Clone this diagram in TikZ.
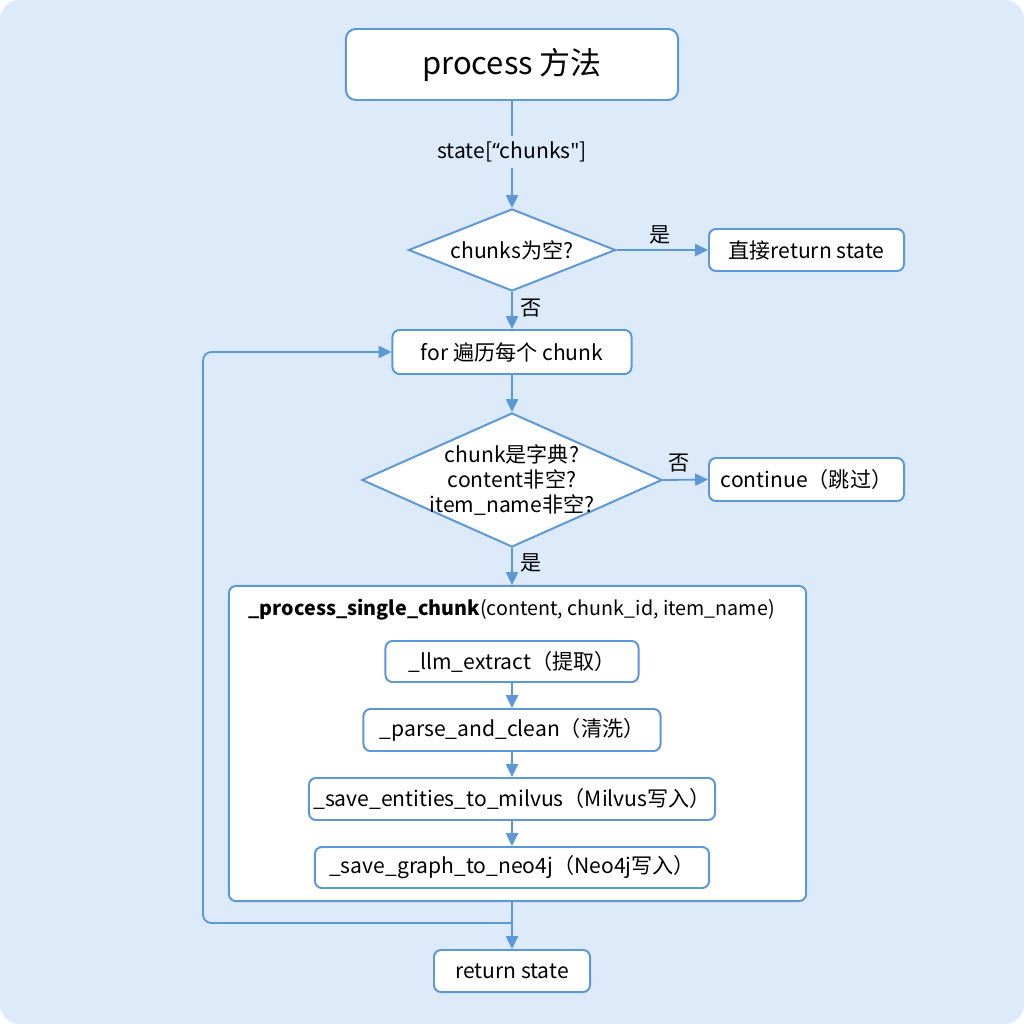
\documentclass[tikz,border=0pt]{standalone}
\usepackage{fontspec}
\setmainfont{Noto Sans CJK SC}
\newfontfamily\latinfont{Noto Sans}
\usetikzlibrary{shapes.geometric,positioning,arrows.meta,calc}
\definecolor{bgblue}{HTML}{DCEAFA}
\definecolor{lineblue}{HTML}{5C98D8}

\begin{document}
\begin{tikzpicture}[x=0.025cm, y=-0.025cm,
  box/.style={rectangle, draw=lineblue, line width=1.4pt, fill=white, rounded corners=5pt, inner sep=0pt, font=\fontsize{15}{18}\selectfont},
  decision/.style={diamond, draw=lineblue, line width=1.4pt, fill=white, inner sep=0pt},
  arrow/.style={-{Triangle[length=3.2mm, width=3mm]}, draw=lineblue, line width=1.3pt},
  tag/.style={font=\fontsize{15}{18}\selectfont, inner sep=1pt},
]

% === Background ===
\fill[white] (0,0) rectangle (1024,1024);
\fill[bgblue, rounded corners=14pt] (0,0) rectangle (1024,1024);
\useasboundingbox (0,0) rectangle (1024,1024);

% === Entry and first check ===
\node[box, rounded corners=7pt, minimum width=8.3cm, minimum height=1.775cm, font=\fontsize{22}{26}\selectfont] (title) at (512,64.5) {process 方法};
\node[tag, inner sep=4pt] (st) at (512,152) {state[{\latinfont “}chunks{\latinfont "}]};
\node[decision, minimum width=5.175cm, minimum height=2.05cm] (d1) at (512,250) {};
\node[tag] (d1txt) at (d1) {chunks为空?};
\node[box, minimum width=4.875cm, minimum height=1.05cm] (direct) at (806.5,250) {直接return state};

\draw[draw=lineblue, line width=1.3pt] (title) -- (st);
\draw[arrow] (st) -- (d1);
\draw[arrow] (d1.east) -- (direct.west);
\node[tag] (yes1) at (660,235) {是};

% === Loop over chunks ===
\node[box, minimum width=5.975cm, minimum height=1.1cm] (loop) at (512,352) {for 遍历每个 chunk};
\draw[arrow] (d1.south) -- (loop.north);
\node[tag] (no1) at (531,308) {否};

\node[decision, minimum width=7.5cm, minimum height=3.35cm] (d2) at (512,480) {};
\node[tag, align=center, font=\fontsize{15}{17.5}\selectfont] (d2txt) at (d2) {chunk是字典?\\content非空?\\item\_name非空?};
\node[box, minimum width=4.875cm, minimum height=1.075cm] (skip) at (806.5,479.5) {continue（跳过）};

\draw[arrow] (loop.south) -- (d2.north);
\draw[arrow] (d2.east) -- (skip.west);
\node[tag] (no2) at (679,463) {否};

% === Single chunk processing ===
\node[box, minimum width=14.425cm, minimum height=7.875cm] (single) at (517.5,743.5) {};
\node[tag, anchor=west, font=\fontsize{14}{17}\selectfont] (stitle) at (247,610) {\textbf{\_process\_single\_chunk}(content, chunk\_id, item\_name)};
\draw[arrow] (d2.south) -- (d2.south |- single.north);
\node[tag] (yes2) at (531,563) {是};

\node[box, minimum width=6.325cm, minimum height=1.025cm] (s1) at (512,661.5) {\_llm\_extract（提取）};
\node[box, minimum width=7.425cm, minimum height=1.05cm] (s2) at (512,730) {\_parse\_and\_clean（清洗）};
\node[box, minimum width=10.15cm, minimum height=1.05cm] (s3) at (512,799) {\_save\_entities\_to\_milvus（Milvus写入）};
\node[box, minimum width=9.85cm, minimum height=1.025cm] (s4) at (512,867.5) {\_save\_graph\_to\_neo4j（Neo4j写入）};

\draw[arrow] (s1) -- (s2);
\draw[arrow] (s2) -- (s3);
\draw[arrow] (s3) -- (s4);

% === Back edge and exit ===
\node[box, minimum width=3.9cm, minimum height=1.05cm] (ret) at (512,971) {return state};
\coordinate (join) at (512,923);
\coordinate (lx) at (203,352);
\draw[arrow] (ret.north |- single.south) -- (ret.north);
\draw[arrow, rounded corners=6pt] (join) -| (lx) -- (loop.west);

\end{tikzpicture}
\end{document}
